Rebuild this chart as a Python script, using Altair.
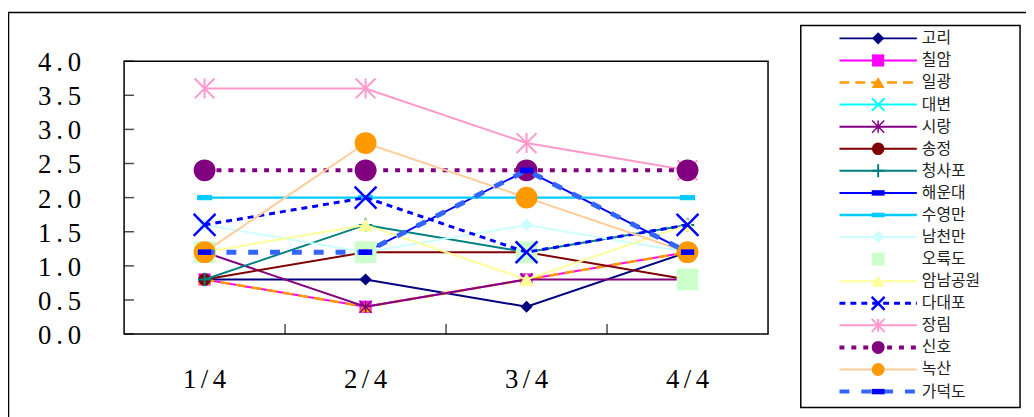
import altair as alt
import pandas as pd

# ---------------- data ----------------
quarters = ["1/4", "2/4", "3/4", "4/4"]
quarter_pos = [1, 2, 3, 4]
y_ticks = [0.0, 0.5, 1.0, 1.5, 2.0, 2.5, 3.0, 3.5, 4.0]
y_tick_labels = ["0.0", "0.5", "1.0", "1.5", "2.0", "2.5", "3.0", "3.5", "4.0"]
x_tick_between = [1.5, 2.5, 3.5]

series_names = ["고리", "칠암", "일광", "대변", "시랑", "송정", "청사포", "해운대", "수영만",
                "남천만", "오륙도", "암남공원", "다대포", "장림", "신호", "녹산", "가덕도"]

gori = [0.8, 0.8, 0.4, 1.2]
chilam = [0.8, 0.4, 0.8, 1.2]
ilgwang = [0.8, 0.4, 0.8, 1.2]
daebyeon = [None, None, None, None]
sirang = [1.2, 0.4, 0.8, 0.8]
songjeong = [0.8, 1.2, 1.2, 0.8]
cheongsapo = [0.8, 1.6, 1.2, 1.6]
haeundae = [None, 1.2, 2.4, 1.2]
suyeongman = [2.0, 2.0, 2.0, 2.0]
namcheonman = [1.6, 1.2, 1.6, 1.2]
oryukdo = [1.2, 1.2, 1.2, 0.8]
amnam = [1.2, 1.6, 0.8, 1.6]
dadaepo = [1.6, 2.0, 1.2, 1.6]
jangnim = [3.6, 3.6, 2.8, 2.4]
sinho = [2.4, 2.4, 2.4, 2.4]
noksan = [1.2, 2.8, 2.0, 1.2]
gadeokdo = [1.2, 1.2, 2.4, 1.2]

series_values = [gori, chilam, ilgwang, daebyeon, sirang, songjeong, cheongsapo, haeundae,
                 suyeongman, namcheonman, oryukdo, amnam, dadaepo, jangnim, sinho, noksan, gadeokdo]

# ---------------- styles ----------------
XPATH = "M-1,-1L1,1M-1,1L1,-1"
STAR = "M-1,-1L1,1M-1,1L1,-1M0,-1L0,1"
PLUS = "M-1,0L1,0M0,-1L0,1"
RECT = "M-1,-0.42L1,-0.42L1,0.42L-1,0.42Z"
RECT_THIN = "M-1,-0.35L1,-0.35L1,0.35L-1,0.35Z"

styles = [
    dict(color="#000080", mcolor="#000080", width=2, dash=None, shape="diamond", filled=True, size=150, mw=1),
    dict(color="#FF00FF", mcolor="#FF00FF", width=2, dash=None, shape="square", filled=True, size=150, mw=1),
    dict(color="#FF9900", mcolor="#FF9900", width=2.5, dash=[10, 6], shape="triangle-up", filled=True, size=170, mw=1),
    dict(color="#00FFFF", mcolor="#00FFFF", width=2, dash=None, shape=XPATH, filled=False, size=160, mw=2),
    dict(color="#800080", mcolor="#800080", width=2, dash=None, shape=STAR, filled=False, size=150, mw=1.5),
    dict(color="#800000", mcolor="#800000", width=2, dash=None, shape="circle", filled=True, size=160, mw=1),
    dict(color="#008080", mcolor="#008080", width=2, dash=None, shape=PLUS, filled=False, size=180, mw=2),
    dict(color="#0000FF", mcolor="#0000FF", width=2, dash=None, shape=RECT, filled=True, size=170, mw=1),
    dict(color="#00CCFF", mcolor="#00CCFF", width=2.5, dash=None, shape=RECT_THIN, filled=True, size=225, mw=1),
    dict(color="#CCFFFF", mcolor="#CCFFFF", width=2, dash=None, shape="diamond", filled=True, size=160, mw=1),
    dict(color="#CCFFCC", mcolor="#CCFFCC", width=0, dash=None, shape="square", filled=True, size=484, mw=1),
    dict(color="#FFFF99", mcolor="#FFFF99", width=2, dash=None, shape="triangle-up", filled=True, size=230, mw=1),
    dict(color="#0000FF", mcolor="#0000FF", width=3, dash=[6, 5], shape=XPATH, filled=False, size=484, mw=2.5),
    dict(color="#FF99CC", mcolor="#FF99CC", width=2, dash=None, shape=STAR, filled=False, size=400, mw=2),
    dict(color="#800080", mcolor="#800080", width=4, dash=[5, 7], shape="circle", filled=True, size=484, mw=1),
    dict(color="#FFCC99", mcolor="#FF9900", width=2, dash=None, shape="circle", filled=True, size=484, mw=1),
    dict(color="#3366FF", mcolor="#0000FF", width=5, dash=[10, 12], shape=RECT, filled=True, size=180, mw=1),
]

# ---------------- scales (pixel ranges inside the view) ----------------
SHIFT = 2  # left padding
X_SCALE = alt.Scale(domain=[0.5, 4.5], range=[117 - SHIFT, 766 - SHIFT], nice=False, zero=False)
Y_SCALE = alt.Scale(domain=[0, 4], range=[324, 49], nice=False, zero=False)
LX_SCALE = alt.Scale(domain=[0, 1], range=[838 - SHIFT, 916 - SHIFT], nice=False, zero=False)
LY_SCALE = alt.Scale(domain=[0, 16], range=[26, 382], nice=False, zero=False)

FONT_NUM = "Liberation Serif"
FONT_KR = "Noto Sans CJK KR"

layers = []

# outer frame
layers.append(
    alt.Chart(pd.DataFrame({"a": [0]})).mark_rect(fillOpacity=0, stroke="black", strokeWidth=1.5).encode(
        x=alt.value(-1.5), x2=alt.value(1040), y=alt.value(0), y2=alt.value(415))
)

# plot frame
frame_df = pd.DataFrame({"x": [0.5], "x2": [4.5], "y": [0.0], "y2": [4.0]})
layers.append(
    alt.Chart(frame_df).mark_rect(fillOpacity=0, stroke="black", strokeWidth=1.5).encode(
        x=alt.X("x:Q", scale=X_SCALE, axis=None), x2="x2:Q",
        y=alt.Y("y:Q", scale=Y_SCALE, axis=None), y2="y2:Q")
)

# y ticks (inward)
ytick_df = pd.DataFrame({"x": [0.5] * len(y_ticks), "v": y_ticks})
layers.append(
    alt.Chart(ytick_df).mark_tick(orient="horizontal", size=10, thickness=1.5, xOffset=5, color="black").encode(
        x=alt.X("x:Q", scale=X_SCALE, axis=None), y=alt.Y("v:Q", scale=Y_SCALE, axis=None))
)
# x ticks (inward) between categories
xtick_df = pd.DataFrame({"q": x_tick_between, "v": [0.0] * len(x_tick_between)})
layers.append(
    alt.Chart(xtick_df).mark_tick(orient="vertical", size=10, thickness=1.5, yOffset=-5, color="black").encode(
        x=alt.X("q:Q", scale=X_SCALE, axis=None), y=alt.Y("v:Q", scale=Y_SCALE, axis=None))
)

# y tick labels, char by char (monospaced look)
for k, dx in enumerate([-80, -65, -50]):
    df = pd.DataFrame({"x": [0.5] * len(y_ticks), "v": y_ticks, "t": [s[k] for s in y_tick_labels]})
    layers.append(
        alt.Chart(df).mark_text(align="center", baseline="middle", dx=dx, dy=2, fontSize=27,
                                font=FONT_NUM, color="black").encode(
            x=alt.X("x:Q", scale=X_SCALE, axis=None), y=alt.Y("v:Q", scale=Y_SCALE, axis=None),
            text="t:N")
    )

# x category labels, char by char
for k, dx in enumerate([-15, 0, 15]):
    df = pd.DataFrame({"q": quarter_pos, "v": [0.0] * 4, "t": [s[k] for s in quarters]})
    layers.append(
        alt.Chart(df).mark_text(align="center", baseline="middle", dx=dx, dy=46, fontSize=27,
                                font=FONT_NUM, color="black").encode(
            x=alt.X("q:Q", scale=X_SCALE, axis=None), y=alt.Y("v:Q", scale=Y_SCALE, axis=None),
            text="t:N")
    )

# series
for name, vals, st in zip(series_names, series_values, styles):
    df = pd.DataFrame({"q": quarter_pos, "v": vals, "s": [name] * 4}).dropna()
    if len(df) == 0:
        continue
    enc = dict(x=alt.X("q:Q", scale=X_SCALE, axis=None), y=alt.Y("v:Q", scale=Y_SCALE, axis=None))
    if st["width"] > 0:
        kw = dict(color=st["color"], strokeWidth=st["width"])
        if st["dash"]:
            kw["strokeDash"] = st["dash"]
        layers.append(alt.Chart(df).mark_line(**kw).encode(**enc))
    layers.append(
        alt.Chart(df).mark_point(shape=st["shape"], filled=st["filled"], size=st["size"],
                                 color=st["mcolor"], strokeWidth=st["mw"], opacity=1).encode(**enc)
    )

# legend box
layers.append(
    alt.Chart(pd.DataFrame({"a": [0]})).mark_rect(fillOpacity=0, stroke="black", strokeWidth=1.5).encode(
        x=alt.value(799 - SHIFT), x2=alt.value(1020 - SHIFT), y=alt.value(13), y2=alt.value(398))
)

# legend entries
for i, (name, st) in enumerate(zip(series_names, styles)):
    df = pd.DataFrame({"i": [i], "x0": [0.0], "x1": [1.0], "xm": [0.5], "s": [name]})
    ly = alt.Y("i:Q", scale=LY_SCALE, axis=None)
    if st["width"] > 0:
        kw = dict(color=st["color"], strokeWidth=min(st["width"], 4))
        if st["dash"]:
            kw["strokeDash"] = st["dash"]
        layers.append(alt.Chart(df).mark_rule(**kw).encode(
            x=alt.X("x0:Q", scale=LX_SCALE, axis=None), x2="x1:Q", y=ly))
    layers.append(
        alt.Chart(df).mark_point(shape=st["shape"], filled=st["filled"], size=min(st["size"], 170),
                                 color=st["mcolor"], strokeWidth=st["mw"], opacity=1).encode(
            x=alt.X("xm:Q", scale=LX_SCALE, axis=None), y=ly)
    )
    layers.append(
        alt.Chart(df).mark_text(align="left", baseline="middle", dx=5, fontSize=16, font=FONT_KR,
                                color="#222222").encode(
            x=alt.X("x1:Q", scale=LX_SCALE, axis=None), y=ly, text="s:N")
    )

chart = alt.layer(*layers).resolve_scale(x="independent", y="independent").properties(
    width=1024, height=406,
    padding={"left": SHIFT, "top": 3, "right": 0, "bottom": 0},
    autosize=alt.AutoSizeParams(type="none"),
    background="white",
).configure_view(strokeWidth=0)

chart.save("out.html", embed_options={"renderer": "svg", "actions": False})
